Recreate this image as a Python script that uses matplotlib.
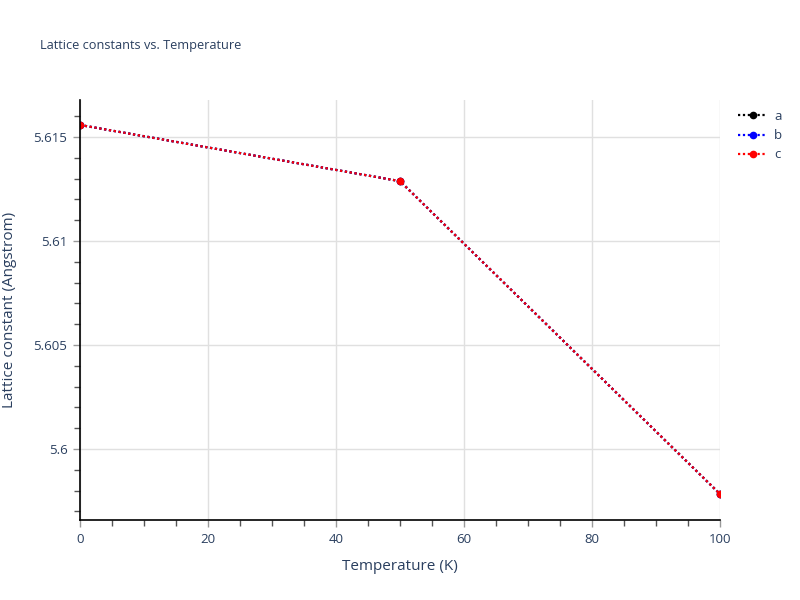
import matplotlib
matplotlib.use("Agg")
import matplotlib.pyplot as plt
from matplotlib.ticker import MultipleLocator

temperature = [0, 50, 100]
lat_a = [5.61558, 5.61288, 5.59784]
lat_b = [5.61558, 5.61288, 5.59784]
lat_c = [5.61558, 5.61288, 5.59784]
series_names = ["a", "b", "c"]
series_colors = ["black", "blue", "red"]

plt.rcParams['font.family'] = ['Open Sans', 'DejaVu Sans']
txt = "#2a3f5f"

fig = plt.figure(figsize=(8, 6), dpi=100)
ax = fig.add_axes([0.1, 0.1333, 0.8, 0.7])

for name, vals, col in zip(series_names, [lat_a, lat_b, lat_c], series_colors):
    ax.plot(temperature, vals, linestyle=(0, (1, 1.2)), linewidth=1.6, color=col,
            marker="o", markersize=4.5, label=name, clip_on=True)

ax.set_xlim(0, 100)
ax.set_ylim(5.59659, 5.61678)
ax.xaxis.set_minor_locator(MultipleLocator(5))
ax.yaxis.set_minor_locator(MultipleLocator(0.001))
ax.set_xticks([0, 20, 40, 60, 80, 100])
ax.set_xticklabels(["0", "20", "40", "60", "80", "100"])
ax.set_yticks([5.6, 5.605, 5.61, 5.615])
ax.set_yticklabels(["5.6", "5.605", "5.61", "5.615"])

ax.grid(True, which="major", color="#e0e0e0", linewidth=1)
ax.set_axisbelow(True)
for s in ["top", "right"]:
    ax.spines[s].set_visible(False)
for s in ["left", "bottom"]:
    ax.spines[s].set_color("black")
    ax.spines[s].set_linewidth(1.2)

ax.tick_params(which="major", length=5, width=1, color="#999999", labelsize=9.5, labelcolor=txt, pad=4)
ax.tick_params(which="minor", length=4, width=1, color="#555555")

ax.set_xlabel("Temperature (K)", fontsize=11, color=txt, labelpad=10)
ax.set_ylabel("Lattice constant (Angstrom)", fontsize=11, color=txt, labelpad=12)

fig.text(0.05, 0.925, "Lattice constants vs. Temperature", fontsize=9.2, color=txt, va="center")

leg = ax.legend(loc="upper left", bbox_to_anchor=(1.01, 1.005), frameon=False,
                fontsize=9.5, handlelength=2.2, labelspacing=0.48, handletextpad=0.5)
for t in leg.get_texts():
    t.set_color(txt)

fig.savefig("out.png", dpi=100)
